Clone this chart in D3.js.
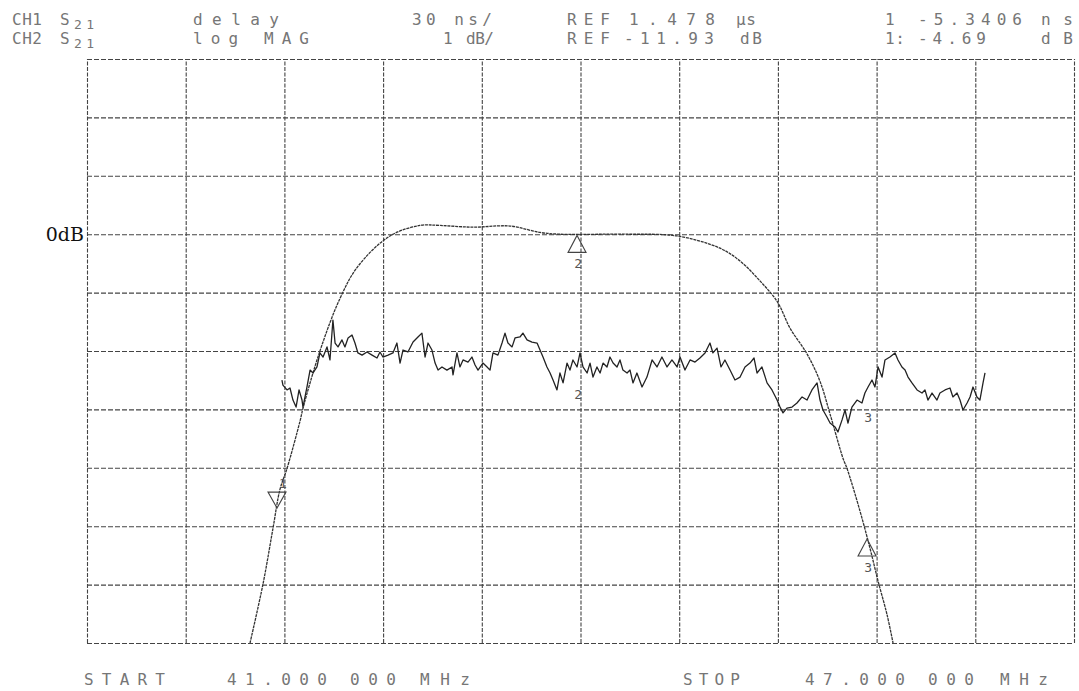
<!DOCTYPE html>
<html>
<head>
<meta charset="utf-8">
<script src="https://cdn.jsdelivr.net/npm/d3@7"></script>
<style>
  body { margin: 0; background: #fff; }
  svg { display: block; }
  .hdr { font-family: "DejaVu Sans Mono", monospace; font-size: 16px; fill: #767676; white-space: pre; }
  .mk { font-family: "DejaVu Sans Mono", monospace; font-size: 13px; fill: #555; }
</style>
</head>
<body>
<svg id="chart"></svg>
<script>
const width = 1079;
const height = 691;

// sweep 41 - 47 MHz, 10 divisions
const freqStart = 41;
const freqStop = 47;
const freqTicks = [41, 41.6, 42.2, 42.8, 43.4, 44, 44.6, 45.2, 45.8, 46.4, 47];

// CH2 log MAG, 1 dB/div, relative to the "0dB" line
const magTicks = [-7, -6, -5, -4, -3, -2, -1, 0, 1, 2, 3];

// CH1 delay, 30 ns/div, REF 1.478 us on the centre line
const delayDomain = [1328, 1628];

// header / footer text
const row1 = ["CH1", "S", "21", "delay", "30 ns/", "REF", "1.478", "μs", "1", "-5.3406", "ns"];
const row2 = ["CH2", "S", "21", "log MAG", "1", "dB/", "REF", "-11.93", "dB", "1:", "-4.69", "dB"];
const footer = ["START", "41.000", "000", "MHz", "STOP", "47.000", "000", "MHz"];

// magnitude trace [MHz, dB]
const magTrace = [
  [41.991, -7.00], [42.070, -5.99], [42.131, -5.03], [42.173, -4.37], [42.216, -4.01],
  [42.295, -3.20], [42.313, -2.98], [42.416, -2.00], [42.538, -1.10], [42.647, -0.55],
  [42.842, -0.03], [43.024, 0.15], [43.146, 0.15], [43.346, 0.12], [43.571, 0.14],
  [43.754, 0.03], [43.875, 0.00], [44.283, 0.00], [44.587, -0.03], [44.848, -0.24],
  [44.970, -0.46], [45.091, -0.80], [45.195, -1.15], [45.274, -1.61], [45.377, -2.05],
  [45.456, -2.52], [45.517, -3.08], [45.596, -3.84], [45.620, -4.01], [45.699, -4.74],
  [45.760, -5.38], [45.809, -5.94], [45.863, -6.51], [45.900, -7.00]
];

// group delay trace [MHz, ns]
const delayTrace = [
  [42.185, 1463.1], [42.191, 1460.5], [42.216, 1458.0], [42.234, 1459.0], [42.252, 1452.8],
  [42.271, 1449.2], [42.289, 1458.0], [42.307, 1452.8], [42.313, 1449.2], [42.337, 1459.5],
  [42.356, 1468.2], [42.374, 1466.7], [42.398, 1469.8], [42.416, 1477.0], [42.435, 1474.9],
  [42.459, 1480.1], [42.477, 1473.4], [42.495, 1493.9], [42.508, 1482.1], [42.526, 1480.1],
  [42.550, 1483.7], [42.568, 1480.1], [42.587, 1484.7], [42.611, 1486.2], [42.629, 1482.1],
  [42.647, 1477.0], [42.672, 1475.9], [42.702, 1477.5], [42.733, 1475.9], [42.763, 1474.4],
  [42.781, 1477.5], [42.799, 1474.9], [42.830, 1475.9], [42.860, 1477.0], [42.884, 1482.1],
  [42.903, 1471.8], [42.921, 1478.5], [42.951, 1477.5], [42.982, 1482.6], [43.012, 1485.2],
  [43.036, 1487.2], [43.055, 1474.9], [43.073, 1482.1], [43.097, 1478.5], [43.116, 1471.8],
  [43.134, 1468.2], [43.158, 1469.8], [43.188, 1468.2], [43.219, 1469.8], [43.225, 1465.7],
  [43.249, 1477.0], [43.267, 1469.8], [43.286, 1473.4], [43.316, 1472.3], [43.340, 1474.9],
  [43.359, 1470.8], [43.377, 1468.2], [43.407, 1471.8], [43.432, 1469.8], [43.450, 1468.2],
  [43.468, 1477.0], [43.498, 1475.9], [43.523, 1482.1], [43.541, 1487.2], [43.559, 1482.1],
  [43.584, 1480.1], [43.602, 1484.7], [43.632, 1485.2], [43.650, 1487.2], [43.675, 1483.7],
  [43.705, 1482.6], [43.736, 1482.1], [43.754, 1478.5], [43.772, 1474.9], [43.796, 1469.8],
  [43.815, 1466.7], [43.833, 1463.1], [43.857, 1458.0], [43.875, 1466.7], [43.894, 1461.6],
  [43.918, 1471.8], [43.936, 1468.2], [43.954, 1473.4], [43.979, 1469.8], [43.997, 1477.0],
  [44.015, 1469.8], [44.040, 1466.7], [44.058, 1471.8], [44.076, 1464.6], [44.100, 1469.8],
  [44.119, 1466.7], [44.137, 1471.8], [44.161, 1469.8], [44.179, 1474.9], [44.198, 1471.8],
  [44.222, 1469.8], [44.240, 1473.4], [44.258, 1468.2], [44.283, 1466.7], [44.301, 1468.2],
  [44.319, 1461.6], [44.343, 1466.7], [44.374, 1459.5], [44.404, 1464.6], [44.435, 1473.4],
  [44.465, 1469.8], [44.495, 1474.9], [44.526, 1469.8], [44.556, 1473.4], [44.587, 1469.8],
  [44.605, 1474.9], [44.635, 1468.2], [44.666, 1473.4], [44.696, 1472.3], [44.726, 1474.4],
  [44.757, 1477.0], [44.787, 1482.1], [44.805, 1477.0], [44.830, 1479.5], [44.854, 1469.8],
  [44.878, 1473.4], [44.909, 1468.2], [44.939, 1463.1], [44.970, 1464.6], [45.000, 1469.8],
  [45.030, 1471.8], [45.055, 1474.4], [45.073, 1466.7], [45.103, 1469.8], [45.134, 1461.6],
  [45.164, 1458.0], [45.195, 1452.8], [45.213, 1449.2], [45.231, 1446.2], [45.255, 1448.7],
  [45.286, 1449.2], [45.316, 1451.3], [45.347, 1454.4], [45.377, 1452.8], [45.407, 1458.0],
  [45.438, 1461.6], [45.456, 1452.8], [45.474, 1447.7], [45.498, 1444.1], [45.517, 1441.0],
  [45.547, 1439.0], [45.565, 1436.4], [45.590, 1442.6], [45.608, 1447.7], [45.626, 1441.0],
  [45.650, 1449.2], [45.681, 1452.8], [45.711, 1451.3], [45.729, 1456.4], [45.748, 1459.5],
  [45.772, 1463.1], [45.790, 1459.5], [45.809, 1469.8], [45.833, 1464.6], [45.851, 1473.4],
  [45.881, 1474.9], [45.912, 1477.0], [45.930, 1473.4], [45.954, 1469.8], [45.973, 1468.2],
  [45.991, 1464.6], [46.015, 1461.6], [46.046, 1458.0], [46.076, 1456.4], [46.094, 1458.0],
  [46.112, 1452.8], [46.137, 1456.4], [46.167, 1452.8], [46.185, 1456.4], [46.216, 1458.0],
  [46.246, 1459.0], [46.264, 1454.4], [46.289, 1456.4], [46.307, 1452.8], [46.325, 1447.7],
  [46.350, 1451.3], [46.368, 1454.4], [46.386, 1459.5], [46.410, 1454.4], [46.428, 1452.8],
  [46.447, 1461.6], [46.459, 1466.7]
];

// markers
const markerNames = ["1", "2", "3"];
const markerFreq = [42.155, 43.979, 45.742];
const markerMag = [-4.69, -0.02, -5.22];
const markerDelay = [1462.0, 1469.8, 1458.0];

const svg = d3.select("#chart")
  .attr("width", width)
  .attr("height", height);

const plot = { left: 87, right: 1074, top: 59, bottom: 643 };

const x = d3.scaleLinear().domain([freqStart, freqStop]).range([plot.left, plot.right]);
const yMag = d3.scaleLinear().domain([-7, 3]).range([plot.bottom, plot.top]);
const yDelay = d3.scaleLinear().domain(delayDomain).range([plot.bottom, plot.top]);

// ===== GRID =====
const gridColor = "#444";

svg.append("g")
  .attr("transform", `translate(0,${plot.bottom})`)
  .call(d3.axisBottom(x).tickValues(freqTicks).tickSize(-(plot.bottom - plot.top)).tickFormat(""))
  .call(g => g.select(".domain").remove())
  .call(g => g.selectAll("line")
    .attr("stroke", gridColor)
    .attr("stroke-width", 1.1)
    .attr("stroke-dasharray", "4,1.5"));

svg.append("g")
  .attr("transform", `translate(${plot.left},0)`)
  .call(d3.axisLeft(yMag).tickValues(magTicks).tickSize(-(plot.right - plot.left)).tickFormat(""))
  .call(g => g.select(".domain").remove())
  .call(g => g.selectAll("line")
    .attr("stroke", gridColor)
    .attr("stroke-width", 1.1)
    .attr("stroke-dasharray", "5,2"));

// 0dB hand label
svg.append("text")
  .attr("x", plot.left - 3)
  .attr("y", yMag(0) + 7)
  .attr("text-anchor", "end")
  .style("font-family", "'DejaVu Serif', serif")
  .style("font-size", "19px")
  .style("fill", "#111")
  .text("0dB");

// ===== TRACES =====
const magLine = d3.line()
  .x(d => x(d[0]))
  .y(d => yMag(d[1]))
  .curve(d3.curveCatmullRom.alpha(0.5));

const delayLine = d3.line()
  .x(d => x(d[0]))
  .y(d => yDelay(d[1]));

svg.append("path")
  .datum(magTrace)
  .attr("d", magLine)
  .attr("fill", "none")
  .attr("stroke", "#333")
  .attr("stroke-width", 1.3)
  .attr("stroke-dasharray", "3,0.8");

svg.append("path")
  .datum(delayTrace)
  .attr("d", delayLine)
  .attr("fill", "none")
  .attr("stroke", "#222")
  .attr("stroke-width", 1.3)
  .attr("stroke-linejoin", "round");

// ===== MARKERS =====
function triangle(cx, cy, down) {
  const p = d3.path();
  if (down) {
    p.moveTo(cx, cy);
    p.lineTo(cx - 9, cy - 16);
    p.lineTo(cx + 9, cy - 16);
  } else {
    p.moveTo(cx, cy);
    p.lineTo(cx - 9, cy + 17);
    p.lineTo(cx + 9, cy + 17);
  }
  p.closePath();
  return p.toString();
}

markerNames.forEach((name, i) => {
  const mx = x(markerFreq[i]);
  const my = yMag(markerMag[i]);
  const active = i === 0;
  svg.append("path")
    .attr("d", triangle(mx, my, active))
    .attr("fill", "none")
    .attr("stroke", "#444")
    .attr("stroke-width", 1.1);
  svg.append("text")
    .attr("class", "mk")
    .attr("x", mx + (active ? 6 : 1))
    .attr("y", active ? my - 20 : my + 33)
    .attr("text-anchor", "middle")
    .text(name);
  if (!active) {
    svg.append("text")
      .attr("class", "mk")
      .attr("x", mx + 1)
      .attr("y", yDelay(markerDelay[i]) + 32)
      .attr("text-anchor", "middle")
      .text(name);
  }
});

// ===== HEADER / FOOTER =====
function token(str, tx, ty, len, size) {
  const t = svg.append("text")
    .attr("class", "hdr")
    .attr("x", tx)
    .attr("y", ty)
    .text(str);
  if (size) t.style("font-size", size + "px");
  if (len) t.attr("textLength", len).attr("lengthAdjust", "spacing");
  return t;
}

const r1 = 25, r2 = 44;
token(row1[0], 12, r1, 30);
token(row1[1], 60, r1);
token(row1[2], 74, r1 + 4, 20, 13);
token(row1[3], 193, r1, 86);
token(row1[4], 412, r1, 80);
token(row1[5], 567, r1, 43);
token(row1[6], 629, r1, 86);
token(row1[7], 736, r1, 20);
token(row1[8], 885, r1);
token(row1[9], 918, r1, 104);
token(row1[10], 1041, r1, 32);

token(row2[0], 12, r2, 30);
token(row2[1], 60, r2);
token(row2[2], 74, r2 + 4, 20, 13);
token(row2[3], 193, r2, 116);
token(row2[4], 443, r2);
token(row2[5], 466, r2, 28);
token(row2[6], 567, r2, 43);
token(row2[7], 624, r2, 90);
token(row2[8], 740, r2, 22);
token(row2[9], 885, r2, 20);
token(row2[10], 918, r2, 68);
token(row2[11], 1041, r2, 32);

token(footer[0], 84, 685, 81);
token(footer[1], 227, 685, 100);
token(footer[2], 350, 685, 46);
token(footer[3], 420, 685, 50);
token(footer[4], 683, 685, 57);
token(footer[5], 805, 685, 100);
token(footer[6], 928, 685, 46);
token(footer[7], 1000, 685, 48);
</script>
</body>
</html>
